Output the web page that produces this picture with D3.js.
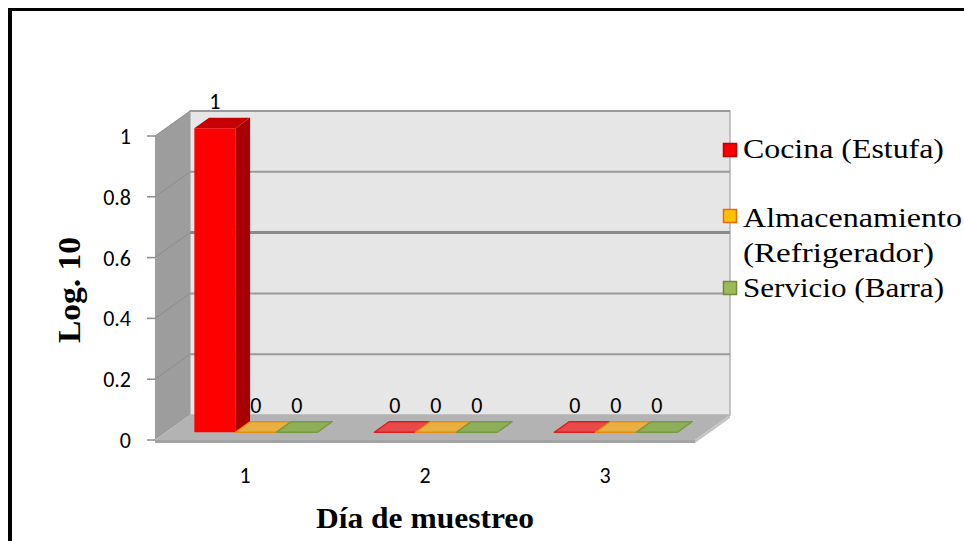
<!DOCTYPE html>
<html>
<head>
<meta charset="utf-8">
<script src="https://cdn.jsdelivr.net/npm/d3@7"></script>
<style>
  html, body { margin: 0; padding: 0; background: #fff; }
  svg { display: block; }
  .serif { font-family: "Liberation Serif", Tinos, "Times New Roman", Times, serif; }
  .sans { font-family: Carlito, Calibri, Lato, "Open Sans", sans-serif; }
</style>
</head>
<body>
<svg id="chart" width="964" height="541"></svg>
<script>
// Chart data
const categories = ["1", "2", "3"];
const seriesNames = ["Cocina (Estufa)", "Almacenamiento (Refrigerador)", "Servicio (Barra)"];
const cocina = [1, 0, 0];
const almacenamiento = [0, 0, 0];
const servicio = [0, 0, 0];
const yTicks = [0, 0.2, 0.4, 0.6, 0.8, 1];
const yTickLabels = ["0", "0.2", "0.4", "0.6", "0.8", "1"];
const seriesValues = [cocina, almacenamiento, servicio];

// Series colours: front, side, top, flat-top, flat-outline
const palette = [
  { front: "#ff0000", side: "#a80000", top: "#c40000", flat: "#e84a4a", edge: "#d81e1e", swatch: "#ff0000", swatchEdge: "#c00000" },
  { front: "#ffc000", side: "#c08a00", top: "#e0a400", flat: "#e8b040", edge: "#e28c10", swatch: "#ffc000", swatchEdge: "#e46c0a" },
  { front: "#9bbb59", side: "#6c8a38", top: "#86a84c", flat: "#8eae5a", edge: "#759a40", swatch: "#9bbb59", swatchEdge: "#71893f" }
];

const svg = d3.select("#chart");

// Outer frame (left and top edges visible)
svg.append("line").attr("x1", 10).attr("y1", 8).attr("x2", 10).attr("y2", 541)
  .attr("stroke", "#000").attr("stroke-width", 4);
svg.append("line").attr("x1", 8).attr("y1", 9.5).attr("x2", 964).attr("y2", 9.5)
  .attr("stroke", "#000").attr("stroke-width", 3);

// Scales: front plane of the 3D box, plus a depth offset
const x = d3.scaleBand().domain(categories).range([155, 695]);
const xs = d3.scaleBand().domain(d3.range(seriesNames.length))
  .range([0, x.bandwidth()]).paddingInner(0).paddingOuter(0.695);
const y = d3.scaleLinear().domain([0, 1]).range([440, 136]);
const DX = 35, DY = -25;          // depth vector of the box
const Z0 = 0.31, Z1 = 0.73;       // depth slice occupied by the bars

function proj(px, v, z) { return [px + z * DX, y(v) + z * DY]; }
function poly(pts) { return pts.map(p => p.join(",")).join(" "); }

const x0 = x.range()[0], x1 = x.range()[1];
const g = svg.append("g");

// Back wall
g.append("polygon")
  .attr("points", poly([proj(x0, 1, 1), proj(x1, 1, 1), proj(x1, 0, 1), proj(x0, 0, 1)]))
  .attr("fill", "#e6e6e6").attr("stroke", "#b4b4b4").attr("stroke-width", 1.5);

// Left wall
g.append("polygon")
  .attr("points", poly([proj(x0, 1, 0), proj(x0, 1, 1), proj(x0, 0, 1), proj(x0, 0, 0)]))
  .attr("fill", "#9d9d9d");

// Floor top surface and its front / right edges
g.append("polygon")
  .attr("points", poly([proj(x0, 0, 0), proj(x1, 0, 0), proj(x1, 0, 1), proj(x0, 0, 1)]))
  .attr("fill", "#b3b3b3");
g.append("polygon")
  .attr("points", poly([proj(x0, 0, 0), proj(x1, 0, 0),
    [proj(x1, 0, 0)[0], proj(x1, 0, 0)[1] + 3], [proj(x0, 0, 0)[0], proj(x0, 0, 0)[1] + 3]]))
  .attr("fill", "#a3a3a3");
g.append("polygon")
  .attr("points", poly([proj(x1, 0, 0), proj(x1, 0, 1),
    [proj(x1, 0, 1)[0], proj(x1, 0, 1)[1] + 3], [proj(x1, 0, 0)[0], proj(x1, 0, 0)[1] + 3]]))
  .attr("fill", "#c4c4c4");

// Gridlines on back wall, with matching lines across the left wall
yTicks.filter(t => t > 0).forEach(t => {
  const a = proj(x0, t, 1), b = proj(x1, t, 1), c = proj(x0, t, 0);
  g.append("line").attr("x1", a[0]).attr("y1", a[1]).attr("x2", b[0]).attr("y2", b[1])
    .attr("stroke", t === 0.6 ? "#8a8a8a" : "#9a9a9a").attr("stroke-width", t === 0.6 ? 3 : 2);
  g.append("line").attr("x1", c[0]).attr("y1", c[1]).attr("x2", a[0]).attr("y2", a[1])
    .attr("stroke", "#8c8c8c").attr("stroke-width", 1);
});

// Y axis ticks and labels
yTicks.forEach((t, i) => {
  g.append("line").attr("x1", 147).attr("x2", x0).attr("y1", y(t)).attr("y2", y(t))
    .attr("stroke", "#8a8a8a").attr("stroke-width", 1.5);
  g.append("text").attr("class", "sans").attr("x", 131).attr("y", y(t) + 8)
    .attr("text-anchor", "end").attr("font-size", 22)
    .attr("fill", "#000").text(yTickLabels[i]);
});

// X axis labels
categories.forEach(c => {
  g.append("text").attr("class", "sans").attr("x", x(c) + x.bandwidth() / 2).attr("y", 483)
    .attr("text-anchor", "middle").attr("font-size", 22)
    .attr("fill", "#000").text(c);
});

// Bars (left to right so neighbours hide hidden side faces)
const bars = g.append("g");
const labels = g.append("g");
categories.forEach((c, ci) => {
  seriesValues.forEach((vals, si) => {
    const v = vals[ci];
    const col = palette[si];
    const bx0 = x(c) + xs(si), bx1 = bx0 + xs.bandwidth();
    if (v > 0) {
      bars.append("polygon")
        .attr("points", poly([proj(bx1, 0, Z0), proj(bx1, v, Z0), proj(bx1, v, Z1), proj(bx1, 0, Z1)]))
        .attr("fill", col.side);
      bars.append("polygon")
        .attr("points", poly([proj(bx0, v, Z0), proj(bx1, v, Z0), proj(bx1, v, Z1), proj(bx0, v, Z1)]))
        .attr("fill", col.top);
      bars.append("polygon")
        .attr("points", poly([proj(bx0, 0, Z0), proj(bx1, 0, Z0), proj(bx1, v, Z0), proj(bx0, v, Z0)]))
        .attr("fill", col.front);
    } else {
      bars.append("polygon")
        .attr("points", poly([proj(bx0, 0, Z0), proj(bx1, 0, Z0), proj(bx1, 0, Z1), proj(bx0, 0, Z1)]))
        .attr("fill", col.flat).attr("stroke", col.edge).attr("stroke-width", 1.5)
        .attr("stroke-linejoin", "round");
    }
    // value label above the bar's top face
    const cx = (proj(bx0, v, Z0)[0] + proj(bx1, v, Z0)[0]) / 2;
    labels.append("text").attr("class", "sans").attr("x", cx).attr("y", proj(bx0, v, Z1)[1] - 9)
      .attr("text-anchor", "middle").attr("font-size", 22)
      .attr("fill", "#000").text(d3.format("~g")(v));
  });
});

// Axis titles
svg.append("text").attr("class", "serif").attr("x", 425).attr("y", 528).attr("text-anchor", "middle")
  .attr("font-weight", "bold").attr("font-size", 30)
  .attr("textLength", 218).attr("lengthAdjust", "spacingAndGlyphs")
  .attr("fill", "#000").text("Día de muestreo");
svg.append("text").attr("class", "serif").attr("transform", "translate(80,290) rotate(-90)")
  .attr("text-anchor", "middle").attr("font-weight", "bold").attr("font-size", 31)
  .attr("textLength", 106).attr("lengthAdjust", "spacingAndGlyphs")
  .attr("fill", "#000").text("Log. 10");

// Legend
const legendItems = [
  { si: 0, lines: ["Cocina (Estufa)"], widths: [201], swatchY: 143, baseY: 158 },
  { si: 1, lines: ["Almacenamiento", "(Refrigerador)"], widths: [219, 191], swatchY: 209, baseY: 227 },
  { si: 2, lines: ["Servicio (Barra)"], widths: [201], swatchY: 281, baseY: 297 }
];
const legend = svg.append("g");
legendItems.forEach(it => {
  const col = palette[it.si];
  legend.append("rect").attr("x", 723.5).attr("y", it.swatchY + 0.5).attr("width", 13).attr("height", 13)
    .attr("fill", col.swatch).attr("stroke", col.swatchEdge).attr("stroke-width", 1.5);
  it.lines.forEach((ln, li) => {
    legend.append("text").attr("class", "serif").attr("x", 743).attr("y", it.baseY + li * 35)
      .attr("font-size", 28)
      .attr("textLength", it.widths[li]).attr("lengthAdjust", "spacingAndGlyphs")
      .attr("fill", "#000").text(ln);
  });
});
</script>
</body>
</html>
